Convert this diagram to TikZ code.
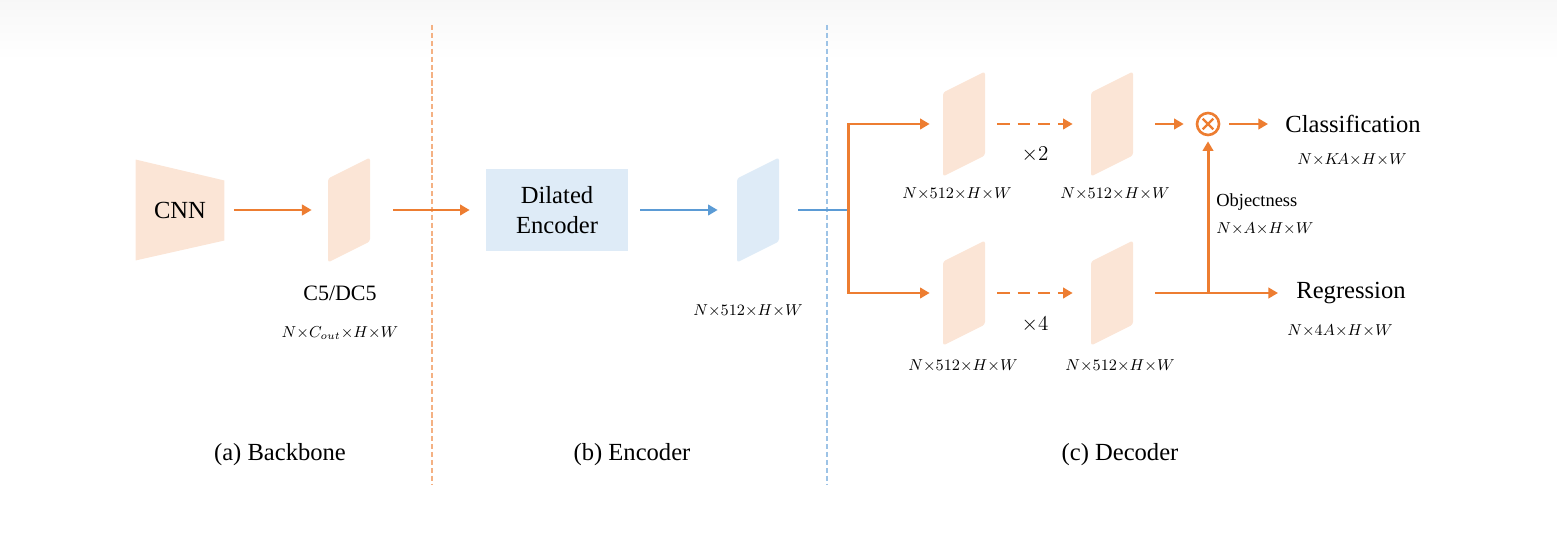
\documentclass[tikz,border=0pt]{standalone}
\usepackage{fontspec}
\setmainfont{Liberation Serif}
\usetikzlibrary{arrows.meta}
\definecolor{arroworange}{HTML}{ED7D31}
\definecolor{fillorange}{HTML}{FBE5D6}
\definecolor{lineorange}{HTML}{F4B183}
\definecolor{arrowblue}{HTML}{5B9BD5}
\definecolor{fillblue}{HTML}{DEEBF7}
\definecolor{lineblue}{HTML}{9DC3E6}
\begin{document}
\begin{tikzpicture}[x=0.02cm, y=-0.02cm,
    every node/.style={font=\fontsize{14}{17}\selectfont},
    dimlabel/.style={font=\fontsize{9}{11}\selectfont},
    fmap/.style={minimum width=0.84cm, minimum height=2.1cm, inner sep=0pt,
        path picture={\fill[#1, rounded corners=1.5pt] (path picture bounding box.south west)
            -- ([yshift=-0.42cm]path picture bounding box.north west)
            -- (path picture bounding box.north east)
            -- ([yshift=0.42cm]path picture bounding box.south east) -- cycle;}},
    cnnbox/.style={minimum width=1.78cm, minimum height=2.02cm, inner sep=0pt,
        path picture={\fill[fillorange] (path picture bounding box.north west)
            -- ([yshift=-0.42cm]path picture bounding box.north east)
            -- ([yshift=0.4cm]path picture bounding box.south east)
            -- (path picture bounding box.south west) -- cycle;}},
    encbox/.style={fill=fillblue, minimum width=2.84cm, minimum height=1.64cm, align=center},
    mult/.style={circle, draw=arroworange, line width=1.5pt, minimum size=0.44cm, inner sep=0pt,
        path picture={\draw[arroworange, line width=1.3pt]
            (path picture bounding box.center) ++(45:0.15cm) -- ++(225:0.3cm)
            (path picture bounding box.center) ++(135:0.15cm) -- ++(315:0.3cm);}},
    flow/.style={-{Triangle[length=5.5pt, width=6pt]}, line width=1.7pt, arroworange},
    bflow/.style={-{Triangle[length=5.5pt, width=6pt]}, line width=1.7pt, arrowblue}]
    \useasboundingbox (0,0) rectangle (1557,533);
    \shade[top color=black!3, bottom color=white] (0,0) rectangle (1557,60);
    % section dividers
    \draw[lineorange, line width=0.7pt, dash pattern=on 3pt off 1.5pt] (432,25) -- (432,485);
    \draw[lineblue, line width=0.7pt, dash pattern=on 3pt off 1.5pt] (827,25) -- (827,485);

    % (a) backbone
    \node[cnnbox] (cnn) at (180,210) {CNN};
    \node[fmap=fillorange] (c5) at (349,210) {};
    \node[font=\fontsize{12.5}{14}\selectfont] (c5name) at (340,293) {C5/DC5};
    \node[dimlabel] (c5dim) at (340,333) {$N{\times}C_{out}{\times}H{\times}W$};

    % (b) encoder
    \node[encbox] (enc) at (557,210) {Dilated\\Encoder};
    \node[fmap=fillblue] (encmap) at (758,210) {};
    \node[dimlabel] (encdim) at (748,311) {$N{\times}512{\times}H{\times}W$};
    \coordinate (split) at (848,210);

    % (c) decoder
    \node[fmap=fillorange] (cls1) at (964,124) {};
    \node[fmap=fillorange] (cls2) at (1112,124) {};
    \node[fmap=fillorange] (reg1) at (964,293) {};
    \node[fmap=fillorange] (reg2) at (1112,293) {};
    \node[dimlabel] (cls1dim) at (957,194) {$N{\times}512{\times}H{\times}W$};
    \node[dimlabel] (cls2dim) at (1115,194) {$N{\times}512{\times}H{\times}W$};
    \node[dimlabel] (reg1dim) at (963,366) {$N{\times}512{\times}H{\times}W$};
    \node[dimlabel] (reg2dim) at (1120,366) {$N{\times}512{\times}H{\times}W$};
    \node[font=\fontsize{12}{14}\selectfont] (rep2) at (1035,155) {${\times}2$};
    \node[font=\fontsize{12}{14}\selectfont] (rep4) at (1035,325) {${\times}4$};
    \node[mult] (prod) at (1208,124) {};
    \node[anchor=west, inner sep=0pt] (cls) at (1285,124) {Classification};
    \node[dimlabel] (clsdim) at (1352,160) {$N{\times}K\!A{\times}H{\times}W$};
    \node[anchor=west, inner sep=0pt] (reg) at (1296,293) {Regression};
    \node[dimlabel] (regdim) at (1340,331) {$N{\times}4A{\times}H{\times}W$};
    \node[anchor=west, inner sep=0pt, font=\fontsize{10.5}{12}\selectfont] (obj) at (1216,202) {Objectness};
    \node[dimlabel, anchor=west, inner sep=0pt] (objdim) at (1216,229) {$N{\times}A{\times}H{\times}W$};
    \coordinate (join) at (1208,293);

    % captions
    \node (capa) at (280,455) {(a) Backbone};
    \node (capb) at (632,455) {(b) Encoder};
    \node (capc) at (1120,455) {(c) Decoder};

    % connectors
    \draw[flow, shorten <=0.18cm, shorten >=0.32cm] (cnn.east) -- (c5.west);
    \draw[flow, shorten <=0.46cm, shorten >=0.32cm] (c5.east) -- (enc.west);
    \draw[bflow, shorten <=0.24cm, shorten >=0.38cm] (enc.east) -- (encmap.west);
    \draw[arrowblue, line width=1.7pt, shorten <=0.38cm] (encmap.east) -- (split);
    \draw[flow, shorten >=0.26cm] (split) |- (cls1.west);
    \draw[flow, shorten >=0.26cm] (split) |- (reg1.west);
    \draw[flow, dash pattern=on 7pt off 4.5pt, shorten <=0.24cm, shorten >=0.36cm] (cls1.east) -- (cls2.west);
    \draw[flow, dash pattern=on 7pt off 4.5pt, shorten <=0.24cm, shorten >=0.36cm] (reg1.east) -- (reg2.west);
    \draw[flow, shorten <=0.44cm, shorten >=0.24cm] (cls2.east) -- (prod.west);
    \draw[flow, shorten <=0.18cm, shorten >=0.34cm] (prod.east) -- (cls.west);
    \draw[flow, shorten <=0.44cm, shorten >=0.36cm] (reg2.east) -- (reg.west);
    \draw[flow, shorten >=0.1cm] (join) -- (prod.south);
\end{tikzpicture}
\end{document}
